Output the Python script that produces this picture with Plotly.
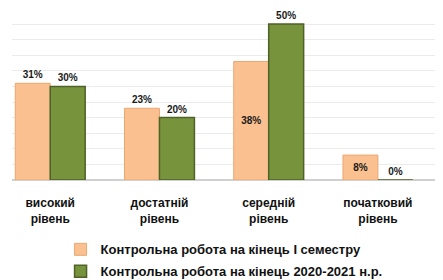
import plotly.graph_objects as go

categories = ["високий<br>рівень", "достатній<br>рівень", "середній<br>рівень", "початковий<br>рівень"]
series_names = ["Контрольна робота на кінець І семестру",
                "Контрольна робота на кінець 2020-2021 н.р."]
semester_values = [31, 23, 38, 8]
year_values = [30, 20, 50, 0]

label_font = dict(family="Liberation Sans", size=10, color="#1a1a1a", weight="bold")

fig = go.Figure()
fig.add_trace(go.Bar(
    x=categories, y=semester_values, name=series_names[0],
    marker=dict(color="#FAC090", line=dict(color="#E9A872", width=1)),
    text=[f"{v}%" for v in semester_values],
    textposition=["outside", "outside", "inside", "inside"],
    insidetextanchor="middle",
    textfont=label_font,
    cliponaxis=False, legendgroup="a",
))
fig.add_trace(go.Bar(
    x=categories, y=year_values, name=series_names[1],
    marker=dict(color="#77933C", line=dict(color="#4F6228", width=1.5)),
    text=[f"{v}%" for v in year_values],
    textposition="outside",
    textfont=label_font,
    cliponaxis=False, legendgroup="b",
))

# the page body adds an 8px offset, so the figure is sized to fit the window
fig.update_layout(
    width=435, height=272,
    margin=dict(l=4, r=5, t=2, b=100, autoexpand=False),
    paper_bgcolor="white", plot_bgcolor="white",
    barmode="group", bargap=0.36, bargroupgap=0.0,
    font=dict(family="Liberation Sans", size=12, color="black"),
    uniformtext=dict(minsize=9, mode="show"),
    showlegend=True,
    legend=dict(orientation="v", x=0.114, xanchor="left", y=-0.32, yanchor="top",
                font=dict(size=13, weight="bold", color="#111"),
                traceorder="grouped", tracegroupgap=2,
                itemwidth=30, bgcolor="rgba(0,0,0,0)"),
    xaxis=dict(range=[-0.35, 3.55], showgrid=False, showline=False, ticks="",
               ticklabelstandoff=14, automargin=False,
               tickfont=dict(size=12, weight="bold", color="#111")),
    yaxis=dict(range=[0, 54.5], dtick=5, showticklabels=False, gridcolor="#EBEBEB",
               gridwidth=1, zeroline=True, zerolinecolor="#D0D0D0", showline=False,
               automargin=False),
)

fig.write_html("out.html")
